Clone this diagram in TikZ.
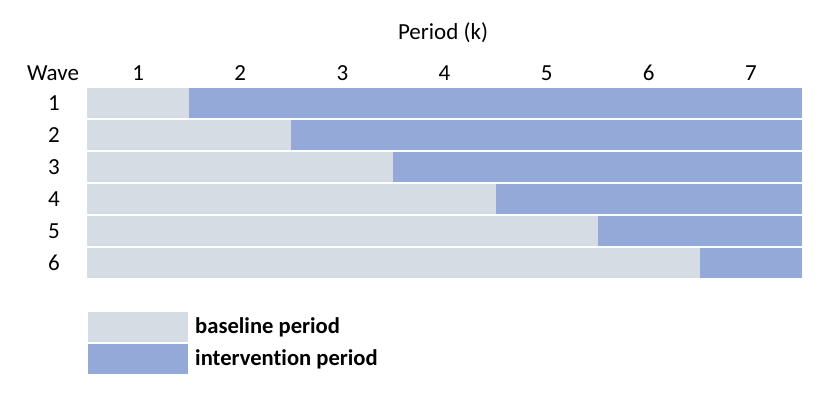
\documentclass[tikz,border=0pt]{standalone}
\usepackage{fontspec}
\setmainfont{Carlito}[Ligatures=NoCommon]
\usepackage{tikz}
\usetikzlibrary{positioning}
\definecolor{basecol}{RGB}{214,220,228}
\definecolor{intercol}{RGB}{148,169,216}

\begin{document}
\begin{tikzpicture}[
  x=1pt, y=-1pt,
  bar/.style={
    rectangle, anchor=north west, inner sep=0pt, outer sep=0pt,
    minimum height=30pt, minimum width=#1, fill=basecol
  },
  inbar/.style={bar=#1, fill=intercol},
  lbl/.style={font=\fontsize{23}{27}\selectfont, inner sep=0pt},
  legtext/.style={font=\fontsize{22.6}{27}\selectfont\bfseries, anchor=west, inner sep=0pt}
]
\useasboundingbox (0,0) rectangle (832,398);

% axis titles
\node[lbl] (title) at (443,33) {Period (k)};
\node[lbl] (wave) at (53,73) {Wave};

% period numbers
\node[lbl] (k1) at (138.1,73) {1};
\node[lbl] (k2) at (240.2,73) {2};
\node[lbl] (k3) at (342.4,73) {3};
\node[lbl] (k4) at (444.5,73) {4};
\node[lbl] (k5) at (546.6,73) {5};
\node[lbl] (k6) at (648.8,73) {6};
\node[lbl] (k7) at (750.9,73) {7};

% wave numbers
\node[lbl] (w1) at (54,103) {1};
\node[lbl] (w2) at (54,135) {2};
\node[lbl] (w3) at (54,167) {3};
\node[lbl] (w4) at (54,199) {4};
\node[lbl] (w5) at (54,231) {5};
\node[lbl] (w6) at (54,263) {6};

% baseline / intervention bars
\node[bar=102.1pt] (b1) at (87,88) {};
\node[inbar=612.9pt, right=0pt of b1] (i1) {};
\node[bar=204.3pt] (b2) at (87,120) {};
\node[inbar=510.7pt, right=0pt of b2] (i2) {};
\node[bar=306.4pt] (b3) at (87,152) {};
\node[inbar=408.6pt, right=0pt of b3] (i3) {};
\node[bar=408.6pt] (b4) at (87,184) {};
\node[inbar=306.4pt, right=0pt of b4] (i4) {};
\node[bar=510.7pt] (b5) at (87,216) {};
\node[inbar=204.3pt, right=0pt of b5] (i5) {};
\node[bar=612.9pt] (b6) at (87,248) {};
\node[inbar=102.1pt, right=0pt of b6] (i6) {};

% legend
\node[bar=100pt] (legbase) at (88,312) {};
\node[inbar=100pt] (leginter) at (88,344) {};
\node[legtext, right=7pt of legbase] (tbase) {baseline period};
\node[legtext, right=7pt of leginter] (tinter) {intervention period};

\end{tikzpicture}
\end{document}
